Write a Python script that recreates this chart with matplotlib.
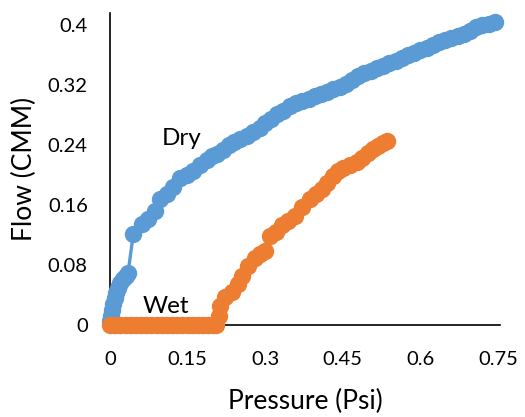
import matplotlib
matplotlib.use("Agg")
import matplotlib.pyplot as plt

# Flow vs. pressure, dry and wet samples
dry_pressure = [0.000, 0.002, 0.004, 0.006, 0.009, 0.012, 0.016, 0.020, 0.025, 0.030,
                0.035, 0.045, 0.061, 0.074, 0.087, 0.097, 0.110, 0.122, 0.135, 0.148,
                0.161, 0.174, 0.187, 0.197, 0.207, 0.218, 0.230, 0.240, 0.252, 0.265,
                0.277, 0.290, 0.300, 0.312, 0.323, 0.335, 0.348, 0.360, 0.372, 0.384,
                0.396, 0.408, 0.420, 0.432, 0.444, 0.456, 0.468, 0.480, 0.492, 0.504,
                0.516, 0.528, 0.540, 0.552, 0.564, 0.576, 0.588, 0.600, 0.612, 0.624,
                0.636, 0.648, 0.660, 0.672, 0.684, 0.696, 0.708, 0.720, 0.732, 0.745]
dry_flow = [0.005, 0.012, 0.020, 0.028, 0.036, 0.043, 0.050, 0.056, 0.061, 0.066,
            0.070, 0.121, 0.135, 0.141, 0.152, 0.168, 0.175, 0.184, 0.196, 0.200,
            0.205, 0.213, 0.220, 0.225, 0.228, 0.233, 0.240, 0.244, 0.248, 0.252,
            0.257, 0.263, 0.270, 0.275, 0.281, 0.286, 0.292, 0.296, 0.299, 0.302,
            0.305, 0.308, 0.311, 0.315, 0.318, 0.322, 0.327, 0.332, 0.336, 0.339,
            0.343, 0.346, 0.350, 0.352, 0.356, 0.360, 0.363, 0.367, 0.370, 0.374,
            0.377, 0.380, 0.383, 0.386, 0.388, 0.392, 0.398, 0.400, 0.402, 0.404]

wet_pressure = [0.000, 0.010, 0.020, 0.030, 0.040, 0.050, 0.060, 0.070, 0.080, 0.090,
                0.100, 0.110, 0.120, 0.130, 0.140, 0.150, 0.160, 0.170, 0.180, 0.190,
                0.200, 0.205, 0.210, 0.213, 0.222, 0.235, 0.248, 0.255, 0.267, 0.280,
                0.290, 0.300, 0.309, 0.320, 0.333, 0.345, 0.358, 0.372, 0.387, 0.398,
                0.409, 0.420, 0.432, 0.441, 0.451, 0.464, 0.477, 0.488, 0.499, 0.509,
                0.519, 0.527, 0.535]
wet_flow = [0.000, 0.000, 0.000, 0.000, 0.000, 0.000, 0.000, 0.000, 0.000, 0.000,
            0.000, 0.000, 0.000, 0.000, 0.000, 0.000, 0.000, 0.000, 0.000, 0.000,
            0.000, 0.000, 0.012, 0.026, 0.037, 0.044, 0.055, 0.066, 0.079, 0.090,
            0.095, 0.099, 0.119, 0.124, 0.133, 0.139, 0.146, 0.157, 0.168, 0.175,
            0.181, 0.190, 0.199, 0.205, 0.210, 0.214, 0.217, 0.223, 0.230, 0.235,
            0.239, 0.243, 0.246]

x_ticks = [0, 0.15, 0.3, 0.45, 0.6, 0.75]
x_tick_labels = ["0", "0.15", "0.3", "0.45", "0.6", "0.75"]
y_ticks = [0, 0.08, 0.16, 0.24, 0.32, 0.4]
y_tick_labels = ["0", "0.08", "0.16", "0.24", "0.32", "0.4"]

plt.rcParams["font.family"] = ["Lato", "DejaVu Sans"]

BLUE = "#5B9BD5"
ORANGE = "#ED7D31"

fig = plt.figure(figsize=(5.25, 4.17), dpi=100)
ax = fig.add_axes([110 / 525, 1 - 325 / 417, 390 / 525, 312 / 417])

ax.plot(dry_pressure, dry_flow, color=BLUE, lw=2.4, marker="o", ms=11.5,
        mec=BLUE, mfc=BLUE, clip_on=False, zorder=3)
ax.plot(wet_pressure, wet_flow, color=ORANGE, lw=2.4, marker="o", ms=11.5,
        mec=ORANGE, mfc=ORANGE, clip_on=False, zorder=4)

ax.set_xlim(0, 0.754)
ax.set_ylim(0, 0.416)
ax.set_xticks(x_ticks)
ax.set_xticklabels(x_tick_labels)
ax.set_yticks(y_ticks)
ax.set_yticklabels(y_tick_labels)
ax.tick_params(axis="both", length=0, labelsize=14.5, colors="black")
ax.tick_params(axis="x", pad=19)
ax.tick_params(axis="y", pad=16)

for side in ("top", "right"):
    ax.spines[side].set_visible(False)
for side in ("left", "bottom"):
    ax.spines[side].set_color("black")
    ax.spines[side].set_linewidth(1.2)
    ax.spines[side].set_zorder(2)

ax.set_xlabel("Pressure (Psi)", fontsize=19, labelpad=15)
ax.set_ylabel("Flow (CMM)", fontsize=19, labelpad=8)

ax.text(0.10, 0.24, "Dry", fontsize=17.5, ha="left", va="baseline")
ax.text(0.064, 0.016, "Wet", fontsize=17.5, ha="left", va="baseline")

fig.savefig("out.png", dpi=100)
